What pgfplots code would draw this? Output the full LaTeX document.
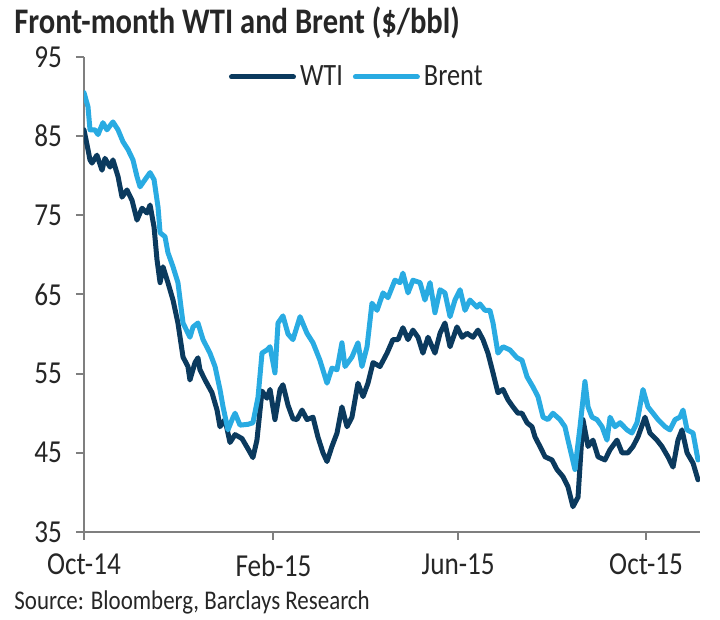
\documentclass[border=0pt]{standalone}
\usepackage{pgfplots}
\pgfplotsset{compat=1.18}
\usepackage{pgfplotstable}
\usepackage{fontspec}
\setmainfont{Carlito}[FakeStretch=0.85]
\definecolor{wti}{HTML}{0B3A5E}
\definecolor{brent}{HTML}{29ABE2}
\definecolor{axgray}{HTML}{7F7F7F}
\definecolor{txt}{HTML}{262626}

\pgfplotstableread{
day val
0 90.5
2.6 88.7
3.9 85.8
7.1 85.8
9.1 85.2
12.3 86.7
14.9 85.8
18.8 86.8
22.1 85.8
25.3 84.3
28.6 83.3
31.8 82.0
34.4 79.9
36.4 78.6
39.6 79.5
42.9 80.4
45.5 79.5
48.1 76.0
49.4 72.8
52.6 72.3
54.5 70.3
57.8 68.5
61.0 66.5
64.3 61.4
68.8 59.6
70.8 60.9
74.0 61.4
77.3 59.3
81.8 57.6
85.1 55.9
88.3 53.0
90.3 50.8
93.5 47.9
96.8 49.5
98.1 50.0
101.3 48.5
106.5 48.6
109.7 48.8
113.0 52.0
115.6 57.6
118.8 58.0
120.8 58.4
124.0 55.1
126.0 61.4
129.2 62.3
132.5 60.0
135.7 59.3
140.3 62.2
144.8 60.1
148.7 58.9
153.2 56.7
157.8 53.8
161.0 55.7
164.3 55.5
167.5 58.9
169.5 55.9
174.0 57.1
177.9 58.9
180.5 55.9
183.8 58.4
187.0 63.9
190.3 63.0
194.2 65.2
197.4 64.6
201.9 66.8
205.2 66.5
207.1 67.7
210.4 65.2
213.6 66.8
218.2 66.5
221.4 64.3
224.7 66.5
227.9 62.7
231.2 65.6
234.4 65.2
237.7 62.2
240.9 64.3
244.2 65.6
247.4 63.0
250.6 64.3
255.2 63.4
257.1 63.8
260.4 63.0
263.6 63.0
265.6 61.4
268.8 57.6
272.1 58.4
276.6 58.0
281.2 57.0
284.4 56.7
287.7 54.6
291.6 53.3
294.8 52.1
298.1 49.5
301.3 49.2
304.5 50.0
309.1 49.2
312.3 48.3
314.3 46.6
318.8 42.9
322.1 48.3
325.3 54.0
327.3 50.8
329.9 49.5
333.1 49.2
336.4 48.3
339.6 46.6
341.6 49.5
344.8 48.3
348.1 48.8
352.6 47.9
355.8 47.5
359.1 48.8
363.0 53.0
366.2 50.8
369.5 50.0
372.7 49.2
377.3 48.3
380.5 47.9
383.8 49.2
387.0 49.5
389.0 50.4
391.6 47.9
395.5 47.5
398.7 44.1
}\brent

\pgfplotstableread{
day val
0 85.8
2.6 83.3
3.9 82.0
5.2 81.6
8.4 82.6
11.7 80.7
13.6 82.2
16.9 81.1
18.8 82.0
22.1 79.9
24.7 77.3
27.9 78.2
31.2 76.9
34.4 74.4
37.7 75.9
40.9 75.3
42.9 76.3
45.5 73.5
47.4 69.4
49.4 66.5
51.3 68.5
54.5 66.5
57.8 64.3
61.0 61.4
64.3 57.1
67.5 55.9
68.8 54.2
72.1 56.4
74.0 57.0
75.3 55.5
78.6 54.2
83.1 52.6
86.4 50.4
88.3 48.3
91.6 49.2
94.8 46.3
98.1 47.3
102.6 46.8
106.5 45.5
109.7 44.4
112.3 46.6
115.6 52.8
118.8 51.9
120.8 53.0
124.0 49.2
127.3 53.0
129.2 53.6
132.5 51.0
135.7 49.3
138.3 49.2
141.6 50.4
144.8 49.2
148.7 49.5
151.9 47.0
155.2 45.0
157.8 43.9
161.0 45.8
164.3 47.5
167.5 50.8
170.8 48.3
174.0 49.5
177.9 53.8
181.2 52.1
184.4 53.8
187.7 56.4
192.2 55.9
196.8 57.6
200.6 59.3
203.9 59.3
207.1 60.8
210.4 59.3
213.6 60.5
216.9 59.6
220.1 57.6
223.4 59.6
227.9 57.6
231.2 60.1
234.4 61.4
237.7 58.4
242.2 60.9
245.5 59.6
248.7 60.1
252.6 59.6
255.8 60.5
259.1 59.3
262.3 57.6
265.6 55.1
268.8 52.6
272.1 53.0
275.3 51.7
278.6 50.8
281.8 50.0
284.4 50.0
287.7 48.8
290.9 48.3
292.9 47.0
296.1 45.8
299.4 44.5
303.9 44.1
307.1 42.9
311.0 42.0
314.3 40.7
317.5 38.2
320.8 39.4
324.0 49.2
327.3 45.8
330.5 46.6
333.8 44.5
338.3 44.1
341.6 45.4
346.1 46.6
349.4 45.0
353.2 45.0
356.5 45.8
359.7 47.0
364.3 49.5
367.5 47.5
372.1 46.6
375.3 45.8
379.2 44.5
382.5 43.2
385.7 46.6
388.3 47.9
391.6 45.0
395.5 43.7
398.7 41.6
}\wti

\begin{document}
\begin{tikzpicture}[x=1pt,y=1pt]
\path[use as bounding box] (0,0) rectangle (360,310);
\begin{axis}[
  at={(42pt,44pt)}, anchor=south west,
  width=308pt, height=237.5pt, scale only axis,
  xmin=0, xmax=400, ymin=35, ymax=95,
  axis x line*=bottom, axis y line*=left,
  axis line style={axgray, line width=1pt},
  tick style={axgray, line width=1pt},
  major tick length=4pt,
  tick align=outside,
  xtick={0,123,243,365},
  xticklabels={Oct-14,Feb-15,Jun-15,Oct-15},
  ytick={35,45,55,65,75,85,95},
  /pgf/number format/assume math mode=true,
  tick label style={font=\fontsize{16}{18}\selectfont, text=txt},
  xticklabel style={yshift=-3.5pt},
  yticklabel style={xshift=-3.5pt},
  legend style={draw=none, fill=none, at={(0.225,0.958)}, anchor=west,
    font=\fontsize{15.5}{17}\selectfont, text=txt,
    /tikz/every even column/.append style={column sep=3pt}},
  legend columns=2,
  legend image code/.code={\draw[#1] (0pt,0pt) -- (31pt,0pt);},
  every axis plot/.append style={line width=2.5pt, line join=round, line cap=round},
]
\addplot[wti, no markers] table[x=day,y=val] {\wti};
\addlegendentry{WTI}
\addplot[brent, no markers] table[x=day,y=val] {\brent};
\addlegendentry{Brent}
\end{axis}
\node[anchor=base west, inner sep=0pt, text=txt, font=\bfseries\fontsize{18}{20}\selectfont] at (7pt,293pt) {Front-month WTI and Brent (\$/bbl)};
\node[anchor=base west, inner sep=0pt, text=txt, font=\fontsize{13.5}{15}\selectfont] at (7pt,5pt) {Source: Bloomberg, Barclays Research};
\end{tikzpicture}
\end{document}
